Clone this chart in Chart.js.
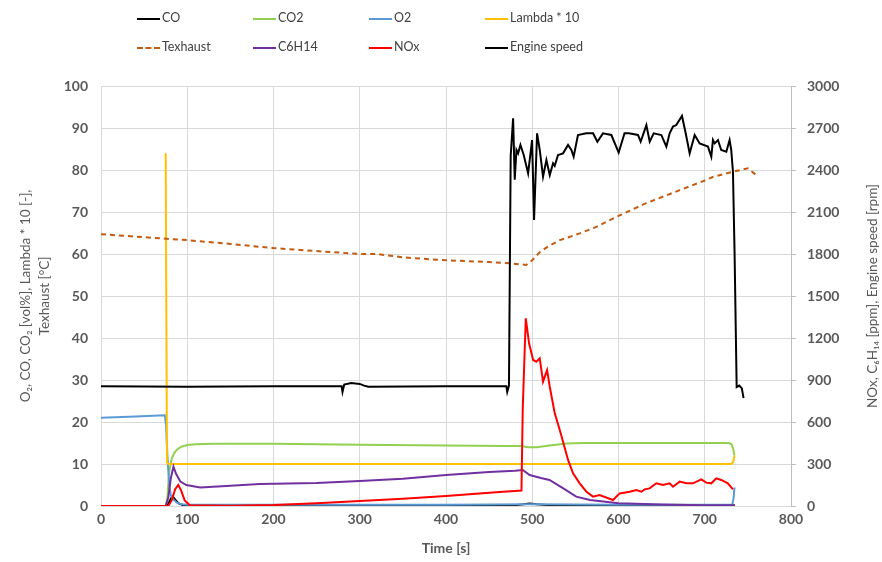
<!DOCTYPE html>
<html lang="en">
<head>
    <meta charset="UTF-8">
    <title>Engine test</title>
    <script src="https://cdn.jsdelivr.net/npm/chart.js"></script>
    <style>
        body {
            margin: 0;
            background: #ffffff;
            font-family: Lato, "Noto Sans", sans-serif;
        }
        #wrap {
            position: relative;
            width: 882px;
            height: 562px;
        }
        .item {
            position: absolute;
            font-size: 12.5px;
            color: #404040;
            line-height: 16px;
            white-space: nowrap;
        }
        .item span {
            display: inline-block;
            width: 23px;
            height: 0;
            border-top: 2px solid #000;
            vertical-align: middle;
            margin-right: 2px;
        }
        #rtitle {
            position: absolute;
            left: 872px;
            top: 296px;
            transform: translate(-50%, -50%) rotate(-90deg);
            font-size: 13.5px;
            color: #595959;
            white-space: nowrap;
        }
    </style>
</head>
<body>
<div id="wrap">
    <canvas id="chart" width="882" height="562"></canvas>
    <div id="legend"></div>
    <div id="rtitle">NOx, C₆H₁₄ [ppm], Engine speed [rpm]</div>
</div>

<script>
    // CO [vol%]
    const coTime = [0, 75, 78, 81, 83, 86, 90, 95, 100, 200, 300, 400, 480, 490, 497, 505, 520, 600, 700, 735];
    const coVal = [0, 0, 0.5, 1.8, 2.3, 1.5, 0.6, 0.2, 0.05, 0.05, 0.1, 0.1, 0.2, 0.4, 0.6, 0.4, 0.2, 0.1, 0.1, 0.1];

    // CO2 [vol%]
    const co2Time = [0, 75, 77, 79, 82, 85, 88, 93, 100, 110, 130, 200, 300, 400, 470, 487, 495, 505, 520, 540, 560, 650, 728, 731, 733, 734.5];
    const co2Val = [0, 0, 2, 8, 11.3, 12.6, 13.4, 14.1, 14.5, 14.7, 14.8, 14.8, 14.6, 14.4, 14.3, 14.3, 14.0, 14.0, 14.4, 14.9, 15, 15, 15, 14.7, 13.6, 12];

    // O2 [vol%]
    const o2Time = [0, 40, 74, 75.5, 77, 79, 81, 84, 88, 93, 100, 200, 400, 500, 600, 732, 733.5, 734.5];
    const o2Val = [21, 21.3, 21.6, 19, 12, 5, 2.5, 1.5, 0.8, 0.4, 0.3, 0.3, 0.3, 0.4, 0.3, 0.3, 2, 4.4];

    // Lambda * 10 [-]
    const lambdaTime = [75, 76.5, 78, 100, 200, 300, 400, 500, 600, 700, 731, 733, 734.5];
    const lambdaVal = [84, 10.5, 10, 10, 10, 10, 10, 10, 10, 10, 10, 10.5, 12];

    // Texhaust [°C]
    const texTime = [0, 50, 100, 150, 200, 250, 300, 320, 350, 400, 450, 474, 493, 500, 509, 520, 532, 555, 575, 594, 632, 671, 700, 710, 733, 750, 762];
    const texVal = [64.7, 64, 63.3, 62.4, 61.4, 60.7, 60, 60, 59.2, 58.5, 58.1, 57.8, 57.4, 58.5, 60.5, 62, 63.3, 64.9, 66.5, 68.5, 72.1, 75.2, 77.5, 78.4, 79.6, 80.4, 78.4];

    // C6H14 [ppm]
    const hcTime = [0, 75, 78, 81, 84, 87, 92, 99, 115, 150, 184, 250, 300, 350, 400, 450, 480, 489, 497, 510, 520, 536, 551, 567, 600, 650, 700, 735];
    const hcVal = [0, 0, 60, 200, 281, 230, 175, 150, 133, 145, 158, 165, 179, 195, 221, 243, 252, 257, 221, 200, 186, 126, 67, 43, 20, 10, 6, 5];

    // NOx [ppm]
    const noxTime = [0, 78, 82, 86, 89.6, 93, 97, 103, 150, 200, 250, 300, 350, 400, 462, 487.5, 489, 492.5, 496.3, 501, 504.8, 508.7, 512.5, 517.2, 520.3, 526.1, 531.9, 535.7, 541.5, 547.3, 555, 562.8, 570.5, 578, 593.6, 601.4, 613, 620.7, 626.5, 630.4, 636, 643.9, 651.6, 659.3, 663.2, 670.9, 678.6, 686.3, 696, 701.7, 707.6, 713.4, 719.1, 726.8, 732.7];
    const noxVal = [0, 0, 40, 120, 150, 110, 40, 5, 2, 7, 20, 36, 52, 71, 100, 110, 700, 1341, 1162, 1043, 1031, 1055, 888, 971, 852, 662, 543, 459, 329, 233, 162, 102, 67, 79, 43, 90, 102, 114, 102, 119, 126, 162, 150, 162, 138, 174, 162, 162, 190, 167, 162, 198, 186, 162, 119];

    // Engine speed [rpm]
    const rpmTime = [0, 100, 200, 279, 280, 282, 290, 300, 305, 310, 400, 470, 471, 473, 475, 477.8, 479.7, 481.7, 483.6, 486.3, 490.1, 495.2, 499.8, 502.1, 505.6, 508.7, 512.5, 516.4, 520.3, 524.1, 526, 529.9, 535.7, 541.5, 545.4, 548, 553, 562.7, 570.5, 575.5, 582, 591.7, 600.2, 607, 612, 622.6, 625.7, 632.3, 636.2, 640.8, 649.7, 655.5, 659.3, 663.2, 667, 673.6, 677.9, 682.5, 688.3, 694.1, 703.7, 707.6, 709.5, 711.5, 715.3, 719.1, 725, 728.8, 730.7, 732.7, 734.6, 737, 740, 743, 745];
    const rpmVal = [855, 852, 856, 855, 815, 868, 878, 872, 860, 852, 855, 855, 815, 860, 2500, 2770, 2330, 2543, 2519, 2579, 2507, 2376, 2614, 2043, 2662, 2543, 2352, 2471, 2364, 2448, 2430, 2507, 2519, 2579, 2543, 2495, 2650, 2662, 2662, 2602, 2662, 2650, 2524, 2662, 2662, 2650, 2602, 2721, 2602, 2662, 2650, 2567, 2662, 2710, 2721, 2786, 2662, 2519, 2650, 2590, 2567, 2495, 2614, 2590, 2614, 2543, 2531, 2614, 2543, 2388, 1800, 850, 860, 840, 770];

    function pts(t, v) {
        return t.map((x, i) => ({ x: x, y: v[i] }));
    }

    const series = [
        { label: 'CO', t: coTime, v: coVal, color: '#000000', axis: 'y' },
        { label: 'CO2', t: co2Time, v: co2Val, color: '#92d050', axis: 'y' },
        { label: 'O2', t: o2Time, v: o2Val, color: '#5b9bd5', axis: 'y' },
        { label: 'Lambda * 10', t: lambdaTime, v: lambdaVal, color: '#ffc000', axis: 'y' },
        { label: 'Texhaust', t: texTime, v: texVal, color: '#c55a11', axis: 'y', dash: [5, 4] },
        { label: 'C6H14', t: hcTime, v: hcVal, color: '#7030a0', axis: 'y2' },
        { label: 'NOx', t: noxTime, v: noxVal, color: '#ff0000', axis: 'y2' },
        { label: 'Engine speed', t: rpmTime, v: rpmVal, color: '#000000', axis: 'y2' }
    ];

    // html legend, 4 columns x 2 rows
    const legend = document.getElementById('legend');
    series.forEach((s, i) => {
        const d = document.createElement('div');
        d.className = 'item';
        d.style.left = (137 + (i % 4) * 116) + 'px';
        d.style.top = (i < 4 ? 10 : 39) + 'px';
        const line = document.createElement('span');
        line.style.borderTop = s.dash ? '2px dashed ' + s.color : '2px solid ' + s.color;
        d.appendChild(line);
        d.appendChild(document.createTextNode(s.label));
        legend.appendChild(d);
    });

    const gray = '#595959';
    const tickFont = { family: 'Lato, "Noto Sans", sans-serif', size: 14, weight: 'bold' };

    const ctx = document.getElementById('chart').getContext('2d');
    new Chart(ctx, {
        type: 'line',
        data: {
            datasets: series.map((s, i) => ({
                label: s.label,
                data: pts(s.t, s.v),
                borderColor: s.color,
                backgroundColor: s.color,
                borderWidth: 2,
                borderDash: s.dash || [],
                pointRadius: 0,
                tension: 0,
                fill: false,
                yAxisID: s.axis,
                order: 8 - i
            }))
        },
        options: {
            responsive: false,
            animation: false,
            layout: { padding: { top: 86, left: 0, right: 0, bottom: 0 } },
            plugins: {
                legend: { display: false },
                tooltip: { enabled: false }
            },
            scales: {
                x: {
                    type: 'linear',
                    min: 0,
                    max: 800,
                    ticks: { stepSize: 100, color: gray, font: tickFont, padding: 5 },
                    grid: { color: '#d9d9d9', drawTicks: false },
                    border: { display: false },
                    title: {
                        display: true,
                        text: 'Time [s]',
                        color: gray,
                        font: { family: 'Lato, "Noto Sans", sans-serif', size: 14, weight: 'bold' },
                        padding: { top: 0, bottom: 5 }
                    },
                    afterFit: (scale) => { scale.height = 56; }
                },
                y: {
                    position: 'left',
                    min: 0,
                    max: 100,
                    ticks: { stepSize: 10, color: gray, font: tickFont, padding: 13 },
                    grid: { color: '#d9d9d9', drawTicks: false },
                    border: { display: false },
                    title: {
                        display: true,
                        text: ['O₂, CO, CO₂ [vol%], Lambda * 10 [-],', 'Texhaust [°C]'],
                        color: gray,
                        font: { family: 'Lato, "Noto Sans", sans-serif', size: 13.5, lineHeight: 1.4 },
                        padding: { top: 16, bottom: 0 }
                    },
                    afterFit: (scale) => { scale.width = 101; }
                },
                y2: {
                    position: 'right',
                    min: 0,
                    max: 3000,
                    ticks: { stepSize: 300, color: gray, font: tickFont, padding: 11, callback: (v) => String(v) },
                    grid: { drawOnChartArea: false, color: '#bfbfbf', tickLength: 5 },
                    border: { display: true, color: '#bfbfbf' },
                    afterFit: (scale) => { scale.width = 91; }
                }
            }
        }
    });
</script>
</body>
</html>
